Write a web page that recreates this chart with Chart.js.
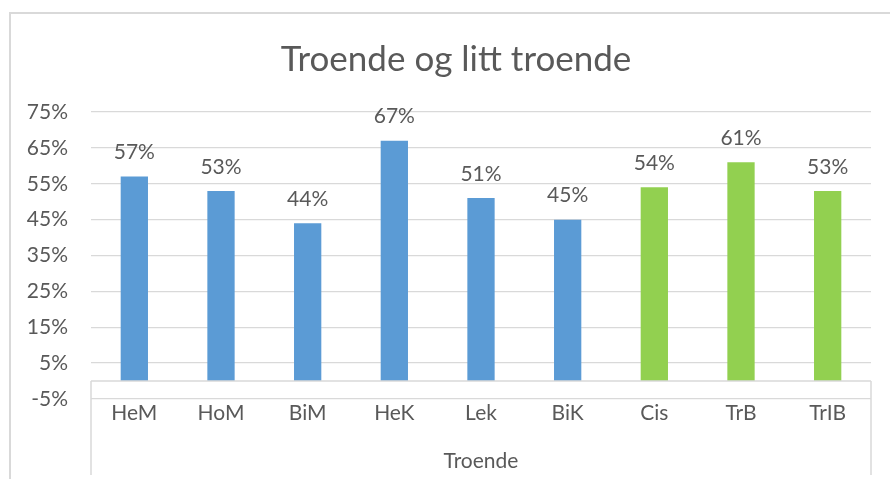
<!DOCTYPE html>
<html>
<head>
<meta charset="utf-8">
<script src="https://cdn.jsdelivr.net/npm/chart.js@4"></script>
<style>
  html, body { margin: 0; padding: 0; background: #fff; overflow: hidden; }
  #frame {
    position: absolute; left: 9px; top: 12px; width: 900px; height: 480px;
    border-left: 2px solid #d9d9d9; border-top: 2px solid #d9d9d9;
  }
  #wrap { position: absolute; left: 0; top: 0; width: 890px; height: 479px; }
</style>
</head>
<body>
<div id="frame"></div>
<div id="wrap"><canvas id="chart" width="890" height="479"></canvas></div>
<script>
// Data
const categories = ['HeM', 'HoM', 'BiM', 'HeK', 'Lek', 'BiK', 'Cis', 'TrB', 'TrIB'];
const values = [57, 53, 44, 67, 51, 45, 54, 61, 53];
const yTicks = [-5, 5, 15, 25, 35, 45, 55, 65, 75];
const chartTitle = 'Troende og litt troende';
const groupLabel = 'Troende';

// Colours (first six blue, last three green)
const blue = '#5b9bd5';
const green = '#92d050';
const barColors = categories.map((c, i) => i < 6 ? blue : green);

const textColor = '#595959';
const lineColor = '#d9d9d9';
const fontFamily = 'Lato, "Open Sans", sans-serif';

// title is centred on the outer frame, not on the canvas
const frameTitle = {
  id: 'frameTitle',
  afterDraw(chart) {
    const ctx = chart.ctx;
    ctx.save();
    ctx.fillStyle = textColor;
    ctx.font = '35px ' + fontFamily;
    ctx.textAlign = 'center';
    ctx.textBaseline = 'middle';
    ctx.fillText(chartTitle, 456, 60);
    ctx.restore();
  }
};

// value labels above each bar
const valueLabels = {
  id: 'valueLabels',
  afterDatasetsDraw(chart) {
    const ctx = chart.ctx;
    const meta = chart.getDatasetMeta(0);
    ctx.save();
    ctx.fillStyle = textColor;
    ctx.font = '21px ' + fontFamily;
    ctx.textAlign = 'center';
    ctx.textBaseline = 'middle';
    meta.data.forEach((bar, i) => {
      ctx.fillText(values[i] + '%', bar.x, bar.y - 24);
    });
    ctx.restore();
  }
};

// zero line and the category bracket lines
const axisLines = {
  id: 'axisLines',
  afterDraw(chart) {
    const ctx = chart.ctx;
    const area = chart.chartArea;
    const y0 = chart.scales.y.getPixelForValue(0);
    ctx.save();
    ctx.strokeStyle = lineColor;
    ctx.lineWidth = 1.5;
    ctx.beginPath();
    ctx.moveTo(area.left, y0);
    ctx.lineTo(area.right, y0);
    ctx.moveTo(area.left, y0);
    ctx.lineTo(area.left, 475);
    ctx.moveTo(area.right, y0);
    ctx.lineTo(area.right, 475);
    ctx.stroke();
    ctx.restore();
  }
};

new Chart(document.getElementById('chart'), {
  type: 'bar',
  data: {
    labels: categories,
    datasets: [{
      data: values,
      backgroundColor: barColors,
      borderWidth: 0,
      categoryPercentage: 1,
      barPercentage: 0.315
    }]
  },
  options: {
    responsive: false,
    animation: false,
    layout: { padding: { left: 0, right: 19, top: 112, bottom: 0 } },
    plugins: {
      legend: { display: false },
      tooltip: { enabled: false },
      title: { display: false }
    },
    scales: {
      x: {
        grid: { display: false, drawTicks: false },
        border: { display: false },
        ticks: {
          color: textColor,
          font: { family: fontFamily, size: 21 },
          padding: 2,
          maxRotation: 0
        },
        title: {
          display: true,
          text: groupLabel,
          color: textColor,
          font: { family: fontFamily, size: 21 },
          padding: { top: 18, bottom: 5 }
        },
        afterFit(scale) { scale.height = 80; }
      },
      y: {
        min: -5,
        max: 75,
        afterBuildTicks(scale) {
          scale.ticks = yTicks.map(v => ({ value: v }));
        },
        grid: { color: lineColor, lineWidth: 1.3, drawTicks: false },
        border: { display: false },
        ticks: {
          color: textColor,
          font: { family: fontFamily, size: 21 },
          padding: 23,
          callback: v => v + '%'
        },
        afterFit(scale) { scale.width = 91; }
      }
    }
  },
  plugins: [frameTitle, valueLabels, axisLines]
});
</script>
</body>
</html>
